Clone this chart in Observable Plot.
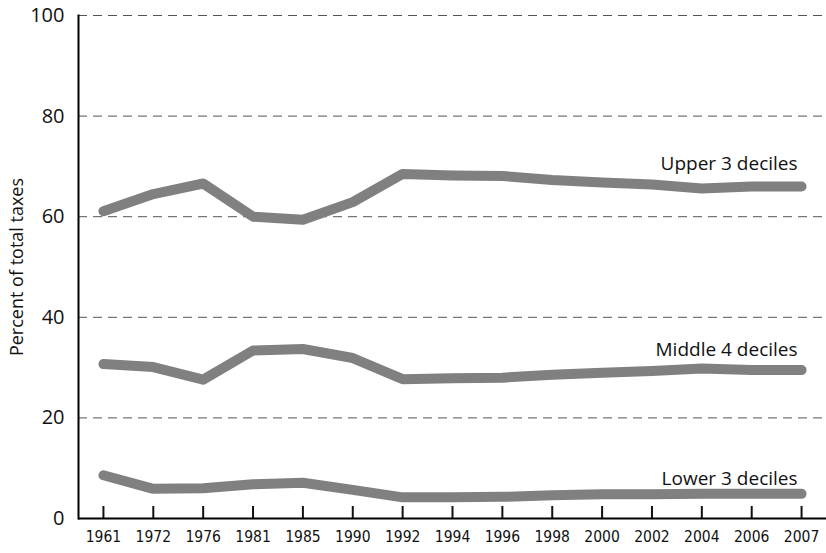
<!DOCTYPE html>
<html>
<head>
<meta charset="utf-8">
<script src="https://cdn.jsdelivr.net/npm/d3@7"></script>
<script src="https://cdn.jsdelivr.net/npm/@observablehq/plot@0.6"></script>
<style>
  html, body { margin: 0; padding: 0; background: #fff; }
  #chart svg { display: block; }
</style>
</head>
<body>
<div id="chart"></div>
<script>
const years = ["1961","1972","1976","1981","1985","1990","1992","1994","1996","1998","2000","2002","2004","2006","2007"];
const upper  = [61.1, 64.5, 66.6, 60.0, 59.4, 62.9, 68.5, 68.2, 68.1, 67.3, 66.8, 66.4, 65.6, 66.0, 66.0];
const middle = [30.7, 30.1, 27.6, 33.4, 33.7, 31.9, 27.7, 27.9, 28.0, 28.6, 29.0, 29.3, 29.8, 29.5, 29.5];
const lower  = [8.6, 5.9, 6.0, 6.8, 7.1, 5.7, 4.2, 4.2, 4.3, 4.6, 4.8, 4.8, 4.9, 4.9, 4.9];
const seriesNames = ["Upper 3 deciles", "Middle 4 deciles", "Lower 3 deciles"];
const yTicks = [0, 20, 40, 60, 80, 100];
const gridValues = [20, 40, 60, 80, 100];
const yTitle = "Percent of total taxes";

const seriesValues = [upper, middle, lower];
const data = seriesNames.flatMap((name, s) => years.map((year, i) => ({series: name, year, value: seriesValues[s][i]})));
const lastPoints = seriesNames.map((name, s) => ({series: name, year: years[years.length - 1], value: seriesValues[s][years.length - 1]}));

const sans = "'Open Sans', 'Noto Sans', sans-serif";
const narrow = "'Liberation Sans Narrow', 'DejaVu Sans Condensed', 'Roboto', sans-serif";

const chart = Plot.plot({
  width: 826,
  height: 553,
  marginLeft: 78,
  marginRight: 0,
  marginTop: 15,
  marginBottom: 35,
  style: {fontFamily: sans, background: "#fff", color: "#111"},
  x: {type: "point", domain: years, padding: 0.5, round: false},
  y: {domain: [0, 100]},
  marks: [
    Plot.ruleY(gridValues, {stroke: "#555", strokeWidth: 1, strokeDasharray: "9,6"}),
    Plot.line(data, {x: "year", y: "value", z: "series", stroke: "#808080", strokeWidth: 10, strokeLinecap: "round", strokeLinejoin: "round"}),
    Plot.text([lastPoints[0]], {x: "year", y: "value", text: "series", textAnchor: "end", dx: -4, dy: -23, fontSize: 19, fill: "#111", fontFamily: sans}),
    Plot.text([lastPoints[1]], {x: "year", y: "value", text: "series", textAnchor: "end", dx: -4, dy: -20, fontSize: 19, fill: "#111", fontFamily: sans}),
    Plot.text([lastPoints[2]], {x: "year", y: "value", text: "series", textAnchor: "end", dx: -4, dy: -15, fontSize: 19, fill: "#111", fontFamily: sans}),
    Plot.axisY(yTicks, {tickSize: 0, tickPadding: 14, fontSize: 20, label: null}),
    Plot.text([yTitle], {frameAnchor: "left", textAnchor: "middle", lineAnchor: "middle", dx: -61, rotate: -90, fontSize: 18, fill: "#111", fontFamily: sans}),
    Plot.axisX({tickSize: 12, dy: -12, text: null, label: null, strokeWidth: 2}),
    Plot.axisX({tickSize: 0, tickPadding: 12, fontSize: 15.5, fontFamily: narrow, label: null}),
    Plot.ruleY([0], {stroke: "#000", strokeWidth: 2}),
    Plot.frame({anchor: "left", stroke: "#000", strokeWidth: 2})
  ]
});
document.getElementById("chart").appendChild(chart);
</script>
</body>
</html>
